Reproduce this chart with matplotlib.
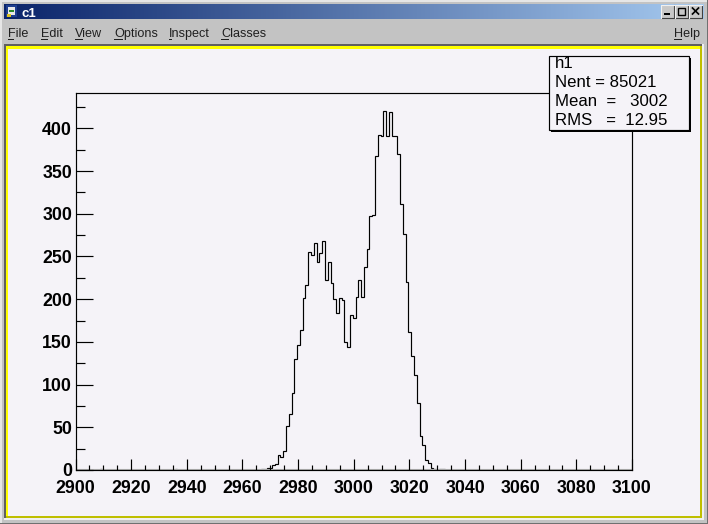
import numpy as np
import matplotlib
matplotlib.use("Agg")
import matplotlib.pyplot as plt
from matplotlib.patches import Rectangle

bin_edge_start = [2909, 2936, 2950]
sparse_counts = [1, 1, 1]
peak_start = 2967
peak_counts = [1, 1, 2, 2, 6, 7, 18, 15, 22, 52, 65, 90, 130, 146, 164, 201, 216, 255, 252, 266,
               243, 254, 268, 222, 243, 219, 200, 184, 201, 199, 150, 144, 181, 178, 203, 223, 203,
               238, 259, 297, 298, 368, 392, 391, 420, 391, 419, 391, 391, 370, 311, 276, 220,
               161, 133, 111, 79, 40, 29, 12, 8, 2, 1, 0, 1, 1]
x_major = list(range(2900, 3101, 20))
y_major = list(range(0, 401, 50))
stats_lines = ["h1", "Nent = 85021", "Mean  =   3002", "RMS   =  12.95"]
menu_items = [("File", 8), ("Edit", 41), ("View", 75), ("Options", 114), ("Inspect", 169), ("Classes", 221)]

W, H = 708, 524
fig = plt.figure(figsize=(W / 100, H / 100), dpi=100, facecolor="#c3c3c3")
plt.rcParams["font.family"] = ["Liberation Sans", "DejaVu Sans"]

chrome = fig.add_axes([0, 0, 1, 1], zorder=0)
chrome.set_xlim(0, W)
chrome.set_ylim(H, 0)
chrome.axis("off")


def rect(ax, x0, y0, x1, y1, color, **kw):
    ax.add_patch(Rectangle((x0, y0), x1 - x0, y1 - y0, facecolor=color, edgecolor="none", **kw))


rect(chrome, 0, 0, W, H, "#c3c3c3")
rect(chrome, 0, 0, W, 1.5, "#e6e6e6")
rect(chrome, 0, 0, 1.5, H, "#e6e6e6")
rect(chrome, W - 1.5, 0, W, H, "#707070")
rect(chrome, 0, H - 1.5, W, H, "#707070")

# title bar gradient
c0 = np.array([10, 36, 106]) / 255
c1 = np.array([166, 202, 240]) / 255
t = np.linspace(0, 1, 256)[:, None]
grad = (c0[None, :] * (1 - t) + c1[None, :] * t)[None, :, :]
chrome.imshow(grad, extent=(4, 704, 19, 4), aspect="auto", zorder=1)
chrome.set_xlim(0, W)
chrome.set_ylim(H, 0)
chrome.text(21, 17, "c1", color="white", fontsize=9.5, fontweight="bold", zorder=3)
rect(chrome, 6, 5, 17, 17, "#1f3f8f", zorder=2)
rect(chrome, 8, 7, 15, 15, "#e8e8e8", zorder=3)
rect(chrome, 9, 10, 14, 12, "#2a8a2a", zorder=4)
rect(chrome, 7, 14, 11, 17, "#d8c020", zorder=4)

# window buttons
for bx, kind in [(661, "min"), (675, "max"), (689, "close")]:
    rect(chrome, bx, 5, bx + 13, 18, "#c8c8c8", zorder=2)
    chrome.plot([bx, bx + 13, bx + 13], [18, 18, 5], color="#404040", lw=0.8, zorder=3)
    chrome.plot([bx, bx, bx + 13], [18, 5, 5], color="#f0f0f0", lw=0.8, zorder=3)
    if kind == "min":
        rect(chrome, bx + 3, 13, bx + 9, 15, "black", zorder=4)
    elif kind == "max":
        chrome.add_patch(Rectangle((bx + 3, 8), 7, 7, fill=False, ec="black", lw=1.0, zorder=4))
    else:
        chrome.plot([bx + 3.5, bx + 9.5], [8, 14], color="black", lw=1.2, zorder=4)
        chrome.plot([bx + 3.5, bx + 9.5], [14, 8], color="black", lw=1.2, zorder=4)

# menu bar
for label, mx in menu_items + [("Help", 674)]:
    chrome.text(mx, 37, label, fontsize=9.1, color="#202020", zorder=3, va="baseline")
    first = {"File": 6, "Edit": 7, "View": 8, "Options": 9, "Inspect": 3, "Classes": 8, "Help": 8}[label]
    rect(chrome, mx, 38.5, mx + first, 39.5, "#202020", zorder=3)

# canvas with bevel
rect(chrome, 4, 44, 704, 46, "#606060", zorder=1)
rect(chrome, 4, 44, 6, 520, "#606060", zorder=1)
rect(chrome, 6, 46, 702, 518, "#ffff00", zorder=1)
rect(chrome, 700, 46, 702, 518, "#bfbf00", zorder=2)
rect(chrome, 6, 516, 702, 518, "#bfbf00", zorder=2)
rect(chrome, 8, 48.5, 700, 516, "#f5f3f8", zorder=3)
rect(chrome, 4, 518, 704, 520, "#f0f0f0", zorder=1)
rect(chrome, 702, 44, 704, 520, "#f0f0f0", zorder=1)

# histogram axes
L, R, T, B = 75.5, 632.0, 93.3, 470.0
ax = fig.add_axes([L / W, 1 - B / H, (R - L) / W, (B - T) / H], zorder=2)
ax.patch.set_alpha(0)
ymax = (B - T) / (341.7 / 400)
ax.set_xlim(2900, 3100)
ax.set_ylim(0, ymax)

edges = np.arange(2900, 3101) - 0.35
counts = np.zeros(200)
for u, v in zip(bin_edge_start, sparse_counts):
    counts[u - 2900] = v
for i, v in enumerate(peak_counts):
    counts[peak_start - 2900 + i] = v
ax.stairs(counts, edges, color="black", lw=0.85, baseline=None)
ax.axhline(1.2, color="#b4b4b4", lw=0.8, zorder=1)

for s in ax.spines.values():
    s.set_linewidth(0.85)
ax.set_xticks(x_major)
ax.set_xticks(np.arange(2900, 3101, 5), minor=True)
ax.set_yticks(y_major)
ax.set_yticks(np.arange(25, 441, 50), minor=True)
ax.tick_params(axis="x", which="major", direction="in", length=11 * 0.72, width=0.85, pad=7)
ax.tick_params(axis="x", which="minor", direction="in", length=5 * 0.72, width=0.85)
ax.tick_params(axis="y", which="major", direction="in", length=17 * 0.72, width=0.85, pad=2.5)
ax.tick_params(axis="y", which="minor", direction="in", length=8.7 * 0.72, width=0.85)
for lab in ax.get_xticklabels() + ax.get_yticklabels():
    lab.set_fontweight("bold")
    lab.set_fontsize(12.8)
    lab.set_color("#000000")

# stats box
over = fig.add_axes([0, 0, 1, 1], zorder=3)
over.set_xlim(0, W)
over.set_ylim(H, 0)
over.axis("off")
rect(over, 551, 58, 691, 132, "black")
box = Rectangle((548.5, 55.5), 140, 74.5, facecolor="#f5f3f8", edgecolor="black", lw=0.85)
over.add_patch(box)
for line, by in zip(stats_lines, [68, 87, 106.5, 125]):
    tt = over.text(555, by, line, fontsize=12.1, color="black", va="baseline")
    tt.set_clip_path(box)

fig.savefig("out.png", dpi=100, facecolor=fig.get_facecolor())
